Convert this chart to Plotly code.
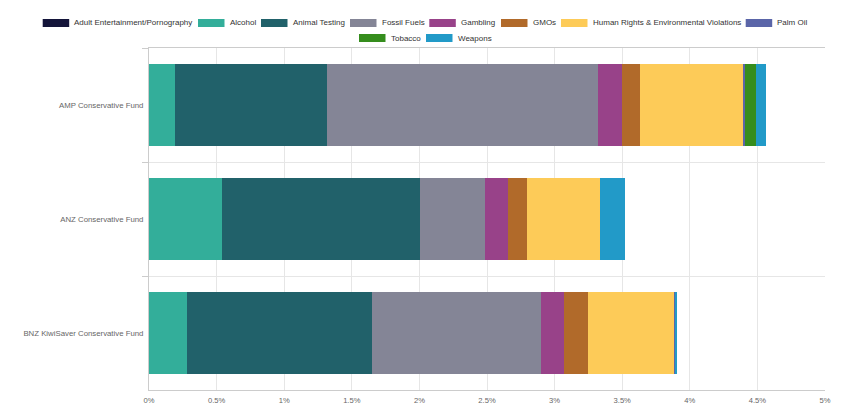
import plotly.graph_objects as go

funds = ["AMP Conservative Fund", "ANZ Conservative Fund", "BNZ KiwiSaver Conservative Fund"]

categories = ["Adult Entertainment/Pornography", "Alcohol", "Animal Testing", "Fossil Fuels",
              "Gambling", "GMOs", "Human Rights & Environmental Violations", "Palm Oil",
              "Tobacco", "Weapons"]

# values in % for [AMP, ANZ, BNZ]
adult = [0.0, 0.0, 0.0]
alcohol = [0.19, 0.54, 0.281]
animal_testing = [1.13, 1.465, 1.366]
fossil_fuels = [2.00, 0.483, 1.252]
gambling = [0.175, 0.17, 0.169]
gmos = [0.14, 0.138, 0.18]
human_rights = [0.76, 0.542, 0.639]
palm_oil = [0.015, 0.0, 0.01]
tobacco = [0.083, 0.0, 0.0]
weapons = [0.074, 0.185, 0.008]

series = [adult, alcohol, animal_testing, fossil_fuels, gambling, gmos,
          human_rights, palm_oil, tobacco, weapons]

colors = ["#14153a", "#33ae9a", "#21616a", "#848596", "#984289", "#b16a2a",
          "#fdcb58", "#5a65a8", "#358d1d", "#229ac8"]

tick_vals = [0, 0.5, 1, 1.5, 2, 2.5, 3, 3.5, 4, 4.5, 5]
tick_text = ["0%", "0.5%", "1%", "1.5%", "2%", "2.5%", "3%", "3.5%", "4%", "4.5%", "5%"]

FONT = "Liberation Sans, Arial, sans-serif"

fig = go.Figure()
for name, vals, col in zip(categories, series, colors):
    fig.add_trace(go.Bar(
        name=name, y=funds, x=vals, orientation="h",
        marker=dict(color=col, line=dict(width=0)),
        showlegend=False,
    ))

# page has an 8px body margin; work in page pixels and shift
OFF = 8
W, H = 850 - OFF, 414 - OFF
L, R, T, B = 149 - OFF, 825 - OFF, 48 - OFF, 390 - OFF

def px_x(p):
    return (p - OFF - L) / (R - L)

def px_y(p):
    return (B - (p - OFF)) / (B - T)

# manual legend (symbol left x in page pixels, row center y in page pixels)
legend_pos = [(42.7, 23), (198, 23), (261, 23), (350, 23), (429.3, 23),
              (501, 23), (561, 23), (745.7, 23), (359, 38), (426, 38)]
shapes = []
annotations = []
for (x0, yc), name, col in zip(legend_pos, categories, colors):
    shapes.append(dict(type="rect", xref="paper", yref="paper",
                       x0=px_x(x0), x1=px_x(x0 + 26.5),
                       y0=px_y(yc + 4), y1=px_y(yc - 4),
                       fillcolor=col, line=dict(width=0), layer="above"))
    annotations.append(dict(xref="paper", yref="paper", x=px_x(x0 + 29.5), y=px_y(yc),
                            xanchor="left", yanchor="middle", text=name, showarrow=False,
                            font=dict(family=FONT, size=8, color="#333333")))

fig.update_layout(
    barmode="stack",
    bargap=0.28,
    width=W, height=H,
    margin=dict(l=L, r=W - R, t=T, b=H - B, pad=0, autoexpand=False),
    paper_bgcolor="white", plot_bgcolor="white",
    font=dict(family=FONT, size=8, color="#666666"),
    shapes=shapes,
    annotations=annotations,
    xaxis=dict(range=[0, 5], tickvals=tick_vals, ticktext=tick_text,
               showgrid=True, gridcolor="#e6e6e6", gridwidth=1,
               showline=True, linecolor="#cccccc", linewidth=1, mirror=True,
               ticks="", zeroline=False, ticklabelstandoff=3, automargin=False,
               tickfont=dict(family=FONT, size=7.6, color="#666666")),
    yaxis=dict(categoryorder="array", categoryarray=funds,
               range=[2.5, -0.5], tickson="boundaries",
               showgrid=True, gridcolor="#e6e6e6", gridwidth=1,
               showline=True, linecolor="#cccccc", linewidth=1,
               ticks="outside", ticklen=6, tickcolor="#cccccc",
               zeroline=False, ticklabelstandoff=3, automargin=False,
               tickfont=dict(family=FONT, size=7.8, color="#666666")),
)

fig.write_html("out.html")
